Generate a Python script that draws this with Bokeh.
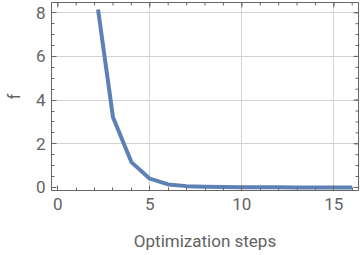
import math
from bokeh.plotting import figure
from bokeh.models import Range1d, FixedTicker
from bokeh.embed import file_html
from bokeh.resources import INLINE

# ---- data ----
steps = [2, 3, 4, 5, 6, 7, 8, 9, 10, 11, 12, 13, 14, 15, 16]
f_values = [9.3, 3.22, 1.16, 0.40, 0.14, 0.06, 0.03, 0.015, 0.01,
            0.006, 0.004, 0.003, 0.002, 0.001, 0.001]
x_major = [0, 5, 10, 15]
x_minor = list(range(0, 17))
y_major = [0, 2, 4, 6, 8]
y_minor = [v / 2 for v in range(0, 17)]
x_grid = [5, 10, 15]
y_grid = [2, 4, 6, 8]
y_clip = 8.15          # plot range maximum (line is clipped there)
x_lim = (-0.34, 16.34)
y_lim = (-0.14, 8.47)

LINE = "#5E81B5"
FRAME = "#666666"
TEXT = "#636363"
GRID = "#d3d3d3"
FONT = "Roboto"

# clip the polyline at y_clip, like the plot range does
xs, ys = [], []
for i in range(len(steps)):
    x0, y0 = steps[i], f_values[i]
    if y0 <= y_clip:
        xs.append(x0); ys.append(y0)
    if i + 1 < len(steps):
        x1, y1 = steps[i + 1], f_values[i + 1]
        if (y0 - y_clip) * (y1 - y_clip) < 0:
            t = (y_clip - y0) / (y1 - y0)
            xs.append(x0 + t * (x1 - x0)); ys.append(y_clip)

p = figure(width=360, height=255, output_backend="svg", toolbar_location=None,
           x_range=Range1d(*x_lim), y_range=Range1d(*y_lim),
           min_border_left=49, min_border_right=2, min_border_top=2,
           min_border_bottom=65, background_fill_color="white",
           border_fill_color="white", outline_line_color=FRAME)

p.xgrid.ticker = FixedTicker(ticks=x_grid)
p.ygrid.ticker = FixedTicker(ticks=y_grid)
for g in (p.xgrid, p.ygrid):
    g.grid_line_color = GRID
    g.grid_line_width = 1

p.line(xs, ys, line_color=LINE, line_width=4, line_join="round", line_cap="butt")

def style_axis(ax, ticks, minors):
    ax.ticker = FixedTicker(ticks=ticks, minor_ticks=minors)
    ax.axis_line_color = FRAME
    ax.major_tick_line_color = FRAME
    ax.minor_tick_line_color = FRAME
    ax.major_tick_in = 5
    ax.major_tick_out = 0
    ax.minor_tick_in = 3
    ax.minor_tick_out = 0
    ax.major_label_text_font = FONT
    ax.major_label_text_font_size = "17px"
    ax.major_label_text_color = TEXT
    ax.axis_label_text_font = FONT
    ax.axis_label_text_font_size = "17px"
    ax.axis_label_text_color = TEXT
    ax.axis_label_text_font_style = "normal"

xa = p.xaxis[0]
style_axis(xa, x_major, x_minor)
xa.axis_label = "Optimization steps"
xa.major_label_standoff = 7
xa.axis_label_standoff = 18

ya = p.yaxis[0]
style_axis(ya, y_major, y_minor)
ya.axis_label = "f"
ya.major_label_standoff = 6
ya.axis_label_standoff = 9

# inward ticks on the top and right frame edges
p.ray(x=x_major, y=[y_lim[1]] * len(x_major), length=5, angle=-math.pi / 2,
      length_units="screen", line_color=FRAME, line_width=1)
p.ray(x=x_minor, y=[y_lim[1]] * len(x_minor), length=3, angle=-math.pi / 2,
      length_units="screen", line_color=FRAME, line_width=1)
p.ray(x=[x_lim[1]] * len(y_major), y=y_major, length=5, angle=math.pi,
      length_units="screen", line_color=FRAME, line_width=1)
p.ray(x=[x_lim[1]] * len(y_minor), y=y_minor, length=3, angle=math.pi,
      length_units="screen", line_color=FRAME, line_width=1)

open("out.html", "w").write(file_html(p, INLINE))
